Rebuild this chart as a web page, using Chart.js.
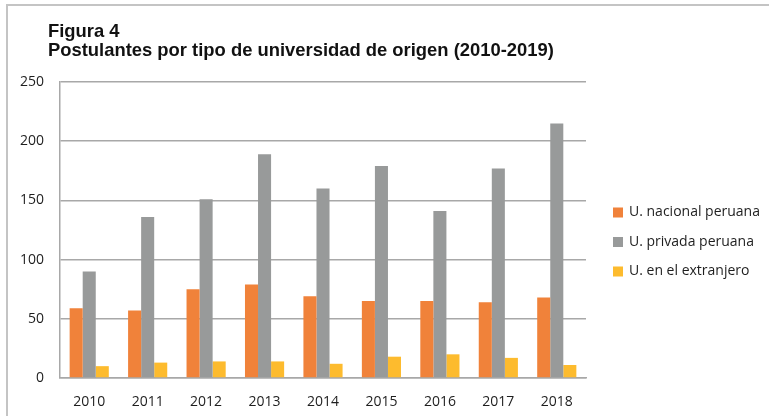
<!DOCTYPE html>
<html>
<head>
<meta charset="utf-8">
<script src="https://cdn.jsdelivr.net/npm/chart.js@4/dist/chart.umd.min.js"></script>
<style>
  html, body { margin: 0; padding: 0; background: #fff; }
  #frame { position: relative; width: 769px; height: 416px; overflow: hidden; }
  #edge { position: absolute; left: 6px; top: 4px; width: 900px; height: 600px;
          border-left: 2px solid #c4c4c4; border-top: 2px solid #c4c4c4; }
  #title { position: absolute; left: 48px; top: 21px; font: bold 18.4px/19px "Liberation Sans", Arial, sans-serif;
           color: #111; white-space: nowrap; }
  #chart { position: absolute; left: 0; top: 0; }
</style>
</head>
<body>
<div id="frame">
  <div id="edge"></div>
  <canvas id="chart" width="769" height="416"></canvas>
  <div id="title">Figura 4<br>Postulantes por tipo de universidad de origen (2010-2019)</div>
</div>
<script>
// valores
var years = ['2010', '2011', '2012', '2013', '2014', '2015', '2016', '2017', '2018'];
var nacional = [59, 57, 75, 79, 69, 65, 65, 64, 68];
var privada = [90, 136, 151, 189, 160, 179, 141, 177, 215];
var extranjero = [10, 13, 14, 14, 12, 18, 20, 17, 11];
var seriesNames = ['U. nacional peruana', 'U. privada peruana', 'U. en el extranjero'];
var seriesColors = ['#F0823A', '#989A9A', '#FDBB2E'];
var yMin = 0, yMax = 250, yStep = 50;

var gridColor = '#a8a8a8';
var textColor = '#1e1e1e';
var tickFont = { family: '"Open Sans", sans-serif', size: 14 };

// leyenda a la derecha, dibujada a mano para ubicarla como en Excel
var sideLegend = {
  id: 'sideLegend',
  afterDraw: function (chart) {
    var ctx = chart.ctx, area = chart.chartArea;
    var sets = chart.data.datasets;
    var x = area.right + 27;
    var rowH = 29.5;
    var y0 = (area.top + area.bottom) / 2 + 12 - rowH * (sets.length - 1) / 2;
    ctx.save();
    ctx.font = '14px "Open Sans", sans-serif';
    ctx.textBaseline = 'middle';
    sets.forEach(function (ds, i) {
      var y = y0 + i * rowH;
      ctx.fillStyle = ds.backgroundColor;
      ctx.fillRect(x, y - 5, 10, 10);
      ctx.fillStyle = textColor;
      ctx.fillText(ds.label, x + 16, y);
    });
    ctx.restore();
  }
};

new Chart(document.getElementById('chart'), {
  type: 'bar',
  data: {
    labels: years,
    datasets: [
      { label: seriesNames[0], data: nacional, backgroundColor: seriesColors[0] },
      { label: seriesNames[1], data: privada, backgroundColor: seriesColors[1] },
      { label: seriesNames[2], data: extranjero, backgroundColor: seriesColors[2] }
    ]
  },
  options: {
    responsive: false,
    animation: false,
    layout: { padding: { top: 82, right: 183, bottom: 0, left: 0 } },
    datasets: { bar: { barPercentage: 1, categoryPercentage: 0.67 } },
    plugins: {
      legend: { display: false },
      title: { display: false },
      tooltip: { enabled: false }
    },
    scales: {
      x: {
        grid: { display: false },
        border: { display: true, color: gridColor, width: 1.5 },
        ticks: { font: tickFont, color: textColor, padding: 8, maxRotation: 0 },
        afterFit: function (scale) { scale.height = 38; }
      },
      y: {
        min: yMin,
        max: yMax,
        grid: { color: gridColor, lineWidth: 1.5, drawTicks: false },
        border: { display: true, color: gridColor, width: 1.5 },
        ticks: { stepSize: yStep, font: tickFont, color: textColor, padding: 16 },
        afterFit: function (scale) { scale.width = 60; }
      }
    }
  },
  plugins: [sideLegend]
});
</script>
</body>
</html>
